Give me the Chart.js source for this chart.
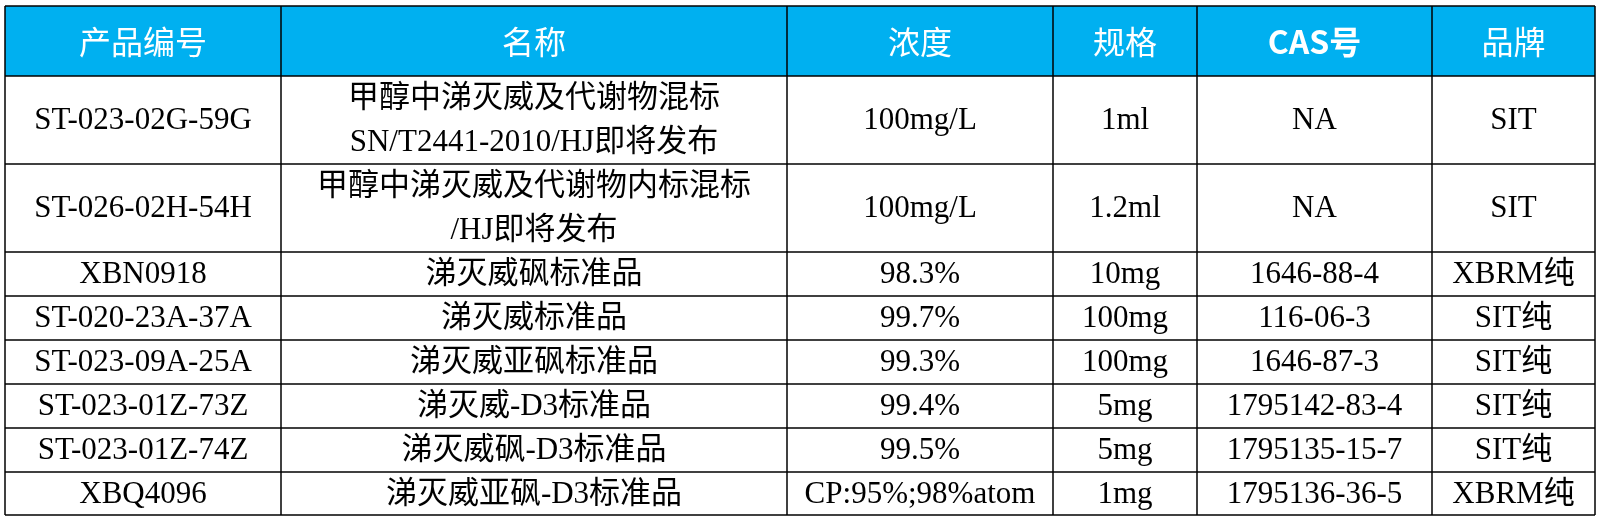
<!DOCTYPE html>
<html><head><meta charset="utf-8">
<script src="https://cdn.jsdelivr.net/npm/chart.js@4"></script>
<style>html,body{margin:0;background:#fff;overflow:hidden}canvas{display:block}</style>
</head><body><canvas id="tbl" width="1601" height="521"></canvas>
<script>
var headers = ["产品编号", "名称", "浓度", "规格", "CAS号", "品牌"];
var codes = ["ST-023-02G-59G", "ST-026-02H-54H", "XBN0918", "ST-020-23A-37A", "ST-023-09A-25A", "ST-023-01Z-73Z", "ST-023-01Z-74Z", "XBQ4096"];
var names = ["甲醇中涕灭威及代谢物混标\nSN/T2441-2010/HJ即将发布", "甲醇中涕灭威及代谢物内标混标\n/HJ即将发布", "涕灭威砜标准品", "涕灭威标准品", "涕灭威亚砜标准品", "涕灭威-D3标准品", "涕灭威砜-D3标准品", "涕灭威亚砜-D3标准品"];
var conc = ["100mg/L", "100mg/L", "98.3%", "99.7%", "99.3%", "99.4%", "99.5%", "CP:95%;98%atom"];
var spec = ["1ml", "1.2ml", "10mg", "100mg", "100mg", "5mg", "5mg", "1mg"];
var cas = ["NA", "NA", "1646-88-4", "116-06-3", "1646-87-3", "1795142-83-4", "1795135-15-7", "1795136-36-5"];
var brand = ["SIT", "SIT", "XBRM纯", "SIT纯", "SIT纯", "SIT纯", "SIT纯", "XBRM纯"];

// layout (pixel units on the scales)
var colEdges = [5, 281, 787, 1053, 1197, 1432, 1595];
var rowEdges = [6, 76, 164, 252, 296, 340, 384, 428, 472, 515];

var tablePlugin = {
    id: 'table',
    afterDraw: function (chart) {
        var c = chart.ctx, xs = chart.scales.x, ys = chart.scales.y;
        var X = function (v) { return xs.getPixelForValue(v); };
        var Y = function (v) { return ys.getPixelForValue(v); };
        var cols = [codes, names, conc, spec, cas, brand];
        c.save();
        c.fillStyle = '#00b0f0';
        c.fillRect(X(colEdges[0]), Y(rowEdges[0]), X(colEdges[6]) - X(colEdges[0]), Y(rowEdges[1]) - Y(rowEdges[0]));
        c.textAlign = 'center';
        c.textBaseline = 'middle';
        // header
        c.fillStyle = '#fff';
        headers.forEach(function (h, i) {
            c.font = (h === 'CAS号' ? 'bold ' : '') + '32px "Noto Sans CJK SC", "Liberation Sans", sans-serif';
            c.fillText(h, (X(colEdges[i]) + X(colEdges[i + 1])) / 2, (Y(rowEdges[0]) + Y(rowEdges[1])) / 2 + 1);
        });
        // body
        c.fillStyle = '#000';
        c.font = '31px "Liberation Serif", "Noto Sans CJK SC", serif';
        for (var r = 0; r < codes.length; r++) {
            var cy = (Y(rowEdges[r + 1]) + Y(rowEdges[r + 2])) / 2;
            for (var k = 0; k < 6; k++) {
                var cx = (X(colEdges[k]) + X(colEdges[k + 1])) / 2;
                var lines = cols[k][r].split('\n');
                lines.forEach(function (t, li) {
                    c.fillText(t, cx, cy + 1 + (li - (lines.length - 1) / 2) * 44);
                });
            }
        }
        // grid
        c.strokeStyle = '#000';
        c.lineWidth = 1.5;
        rowEdges.forEach(function (v) {
            c.beginPath(); c.moveTo(X(colEdges[0]), Math.round(Y(v))); c.lineTo(X(colEdges[6]), Math.round(Y(v))); c.stroke();
        });
        colEdges.forEach(function (v) {
            c.beginPath(); c.moveTo(Math.round(X(v)), Y(rowEdges[0])); c.lineTo(Math.round(X(v)), Y(rowEdges[rowEdges.length - 1])); c.stroke();
        });
        c.restore();
    }
};

new Chart(document.getElementById('tbl').getContext('2d'), {
    type: 'scatter',
    data: { datasets: [{ data: [] }] },
    options: {
        responsive: false,
        animation: false,
        devicePixelRatio: 1,
        layout: { padding: 0 },
        plugins: { legend: { display: false }, tooltip: { enabled: false } },
        scales: {
            x: { type: 'linear', min: 0, max: 1601, display: false },
            y: { type: 'linear', min: 0, max: 521, reverse: true, display: false }
        }
    },
    plugins: [tablePlugin]
});
</script>
</body></html>
